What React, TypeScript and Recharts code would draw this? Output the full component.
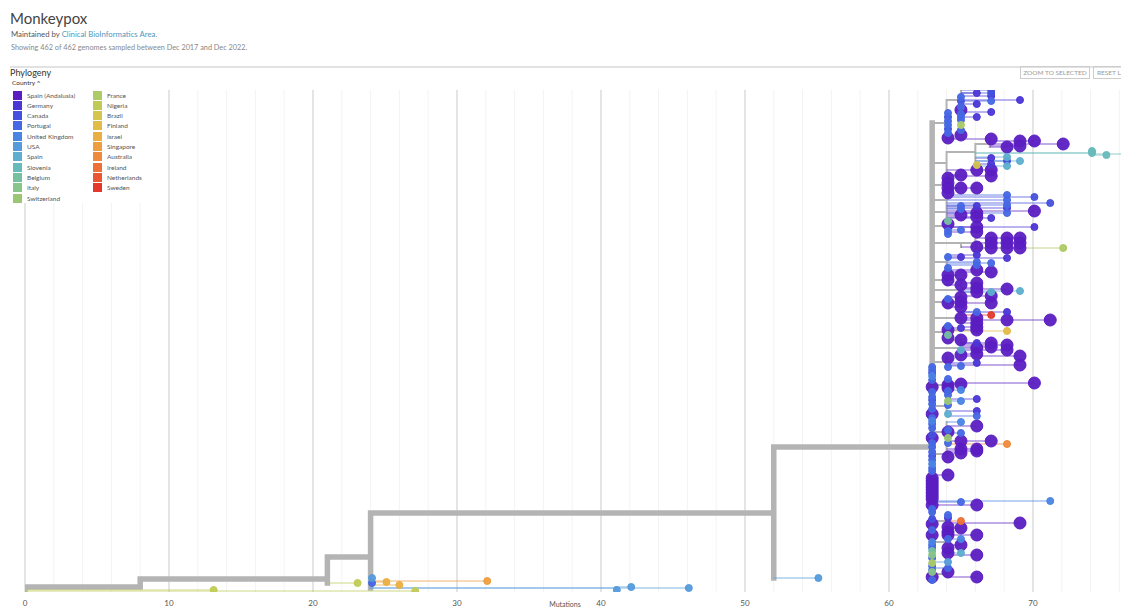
import React from 'react';
import { ComposedChart, Line, Scatter, XAxis, YAxis, ReferenceLine, Label } from 'recharts';

const countries = [
  'Spain (Andalusia)', 'Germany', 'Canada', 'Portugal', 'United Kingdom', 'USA', 'Spain',
  'Slovenia', 'Belgium', 'Italy', 'Switzerland', 'France', 'Nigeria', 'Brazil', 'Finland',
  'Israel', 'Singapore', 'Australia', 'Ireland', 'Netherlands', 'Sweden',
];
const countryColors = [
  '#5B1DC2', '#4B36D6', '#4551DE', '#4668E4', '#4A84E4', '#559BDC', '#5EAECF',
  '#67BABA', '#76C0A2', '#88C58A', '#9BC775', '#ADCB67', '#C0CB57', '#D3C54E', '#E2BC48',
  '#EAAE43', '#EF9E3F', '#EF893B', '#ED7136', '#EA5632', '#E4382D',
];

const xTicks = [0, 10, 20, 30, 40, 50, 60, 70];
const gridSteps = [0, 2, 4, 6, 8, 10, 12, 14, 16, 18, 20, 22, 24, 26, 28, 30, 32, 34, 36, 38,
  40, 42, 44, 46, 48, 50, 52, 54, 56, 58, 60, 62, 64, 66, 68, 70, 72, 74, 76];

// [id, parent, mutations, row]
type TreeNode = [string, string | null, number, number];
const nodes: TreeNode[] = [
  ['root', null, 0, 589], ['a', 'root', 8, 587], ['b', 'a', 21, 579], ['c', 'b', 24, 557],
  ['d', 'c', 52, 513], ['e', 'd', 63, 447], ['u', 'c', 41, 588],
  ['g1', 'e', 64, 123], ['g1a', 'g1', 65, 100],
  ['g2', 'e', 64, 163], ['g2a', 'g2', 66, 152], ['g2b', 'g2a', 67, 144], ['g2c', 'g2a', 74, 153],
  ['g3', 'e', 64, 185], ['g4', 'e', 64, 200], ['g5', 'e', 64, 212], ['g6', 'e', 64, 226],
  ['g7', 'e', 65, 243], ['g7a', 'g7', 66, 243], ['g8', 'e', 64, 262], ['g9', 'e', 64, 280],
  ['g10', 'e', 65, 290], ['g11', 'e', 64, 302], ['g12', 'e', 65, 318], ['g13', 'e', 64, 332],
  ['g14', 'e', 65, 348], ['g15', 'e', 64, 362], ['g16', 'e', 64, 385], ['g17', 'e', 64, 406],
  ['g18', 'e', 64, 432], ['g19', 'e', 64, 454], ['g20', 'e', 64, 521], ['g21', 'e', 64, 542],
  ['g22', 'e', 64, 574],
];

// [parent, mutations, row, country]
type Tip = [string, number, number, number];
const tips: Tip[] = [
  ['root', 13.1, 590, 12], ['root', 27.1, 591, 12], ['b', 23.1, 583, 12],
  ['c', 24.1, 578, 5], ['c', 24.1, 583, 3], ['c', 25.1, 582, 15], ['c', 32.1, 581, 16], ['c', 26, 585, 15],
  ['u', 41.1, 590, 5], ['u', 42.1, 587, 5], ['u', 46.1, 588, 5], ['d', 55.1, 578, 5],

  ['g1a', 67.1, 90, 2], ['g1a', 67.1, 93, 2], ['g1a', 66.1, 93, 1], ['g1a', 67.1, 96, 1], ['g1a', 65, 97, 3],
  ['g1a', 69.1, 100, 1], ['g1a', 67.1, 101, 3], ['g1a', 65, 101, 2], ['g1a', 66.1, 104, 1], ['g1a', 65, 107, 3],
  ['g1a', 65, 110, 0], ['g1a', 67.1, 112, 1], ['g1a', 65, 114, 3], ['g1a', 66.1, 117, 1], ['g1a', 65, 117, 3],
  ['g1a', 65, 120, 3], ['g1a', 65, 125, 11], ['g1a', 65, 130, 3], ['g1a', 65, 135, 0],
  ['g1', 64.1, 113, 3], ['g1', 64.1, 117, 2], ['g1', 64.1, 121, 3], ['g1', 64.1, 125, 3], ['g1', 64.1, 129, 2],
  ['g1', 64.1, 133, 3], ['g1', 64.1, 138, 0], ['g1', 67.1, 139, 0],

  ['g2b', 69.1, 141, 0], ['g2b', 70.1, 141, 0], ['g2b', 72.1, 144, 0], ['g2b', 69.1, 146, 0], ['g2b', 68.2, 147, 0],
  ['g2c', 74.1, 151, 7], ['g2c', 74.1, 153, 7], ['g2c', 79, 154, 7], ['g2c', 75.1, 155, 7],
  ['g2a', 68.2, 157, 6], ['g2a', 67.1, 158, 1], ['g2a', 68.2, 161, 2], ['g2a', 69.1, 161, 6],
  ['g2a', 67.1, 164, 1], ['g2a', 66.1, 165, 13], ['g2a', 68.2, 166, 6],
  ['g2', 66.1, 170, 0], ['g2', 67.1, 170, 0], ['g2', 65, 175, 0], ['g2', 67.1, 176, 0],

  ['g3', 64.1, 178, 0], ['g3', 64.1, 183, 0], ['g3', 64.1, 188, 0], ['g3', 65, 188, 0], ['g3', 66.1, 188, 0], ['g3', 64.1, 193, 0],
  ['g4', 68.2, 195, 3], ['g4', 70.1, 197, 2], ['g4', 68.2, 200, 3], ['g4', 71.2, 203, 2], ['g4', 68.2, 205, 3],
  ['g4', 66.1, 206, 1], ['g4', 65, 206, 3],
  ['g5', 65, 209, 3], ['g5', 68.2, 208, 1], ['g5', 70.1, 211, 0], ['g5', 68.2, 213, 3], ['g5', 66.1, 213, 0],
  ['g5', 65, 215, 0], ['g5', 66.1, 217, 0], ['g5', 67.1, 218, 1],
  ['g6', 64.1, 221, 8], ['g6', 64.1, 224, 0], ['g6', 70.1, 227, 1], ['g6', 66.1, 227, 0], ['g6', 65, 230, 3],
  ['g6', 64.1, 231, 3], ['g6', 66.1, 232, 0], ['g6', 64.1, 234, 3],
  ['g7a', 67.1, 238, 0], ['g7a', 68.2, 238, 0], ['g7a', 69.1, 238, 0], ['g7a', 67.1, 243, 0], ['g7a', 68.2, 243, 0],
  ['g7a', 69.1, 243, 0], ['g7a', 67.1, 248, 0], ['g7a', 68.2, 248, 0], ['g7a', 69.1, 248, 0], ['g7a', 72.1, 248, 11],
  ['g7', 66.1, 247, 0],
  ['g8', 66.1, 255, 1], ['g8', 64.1, 257, 3], ['g8', 65, 257, 1], ['g8', 68.2, 258, 1], ['g8', 66.1, 262, 3],
  ['g8', 67.1, 263, 3], ['g8', 66.1, 265, 3], ['g8', 64.1, 268, 3], ['g8', 66.1, 270, 0], ['g8', 67.1, 272, 0],
  ['g9', 64.1, 275, 0], ['g9', 65, 275, 0], ['g9', 64.1, 280, 0], ['g9', 65, 285, 0],
  ['g10', 66.1, 283, 0], ['g10', 66.1, 288, 0], ['g10', 68.2, 289, 0], ['g10', 69.1, 291, 6], ['g10', 66.1, 292, 0],
  ['g10', 67.1, 292, 6], ['g10', 67.1, 296, 0],
  ['g11', 65, 297, 0], ['g11', 64.1, 299, 3], ['g11', 65, 302, 0], ['g11', 64.1, 303, 0], ['g11', 67.1, 303, 0], ['g11', 65, 307, 0],
  ['g12', 66.1, 312, 3], ['g12', 68.2, 312, 1], ['g12', 67.1, 315, 20], ['g12', 65, 318, 0], ['g12', 66.1, 318, 0],
  ['g12', 68.2, 320, 0], ['g12', 71.2, 320, 0], ['g12', 66.1, 323, 0], ['g12', 66.1, 327, 0],
  ['g13', 64.1, 326, 3], ['g13', 65, 328, 1], ['g13', 64.1, 330, 0], ['g13', 66.1, 330, 0], ['g13', 68.2, 331, 14],
  ['g13', 64.1, 335, 8], ['g13', 64.1, 338, 0],
  ['g14', 65, 340, 0], ['g14', 66.1, 343, 1], ['g14', 67.1, 343, 0], ['g14', 68.2, 345, 0], ['g14', 67.1, 347, 0],
  ['g14', 66.1, 348, 0], ['g14', 68.2, 350, 0], ['g14', 65, 350, 6], ['g14', 66.1, 354, 0], ['g14', 65, 355, 0], ['g14', 69.1, 356, 0],
  ['g15', 64.1, 358, 0], ['g15', 66.1, 363, 1], ['g15', 69.1, 365, 0], ['g15', 65, 366, 3], ['g15', 64.1, 367, 3],
  ['g16', 64.1, 379, 3], ['g16', 70.1, 383, 0], ['g16', 65, 384, 0], ['g16', 64.1, 385, 0], ['g16', 64.1, 388, 0],
  ['g16', 65, 390, 4], ['g16', 64.1, 391, 3], ['g16', 64.1, 395, 3],
  ['g17', 66.1, 399, 1], ['g17', 65, 401, 4], ['g17', 64.1, 401, 10], ['g17', 64.1, 405, 3], ['g17', 66.1, 411, 1],
  ['g17', 64.1, 414, 6], ['g17', 66.1, 416, 3],
  ['g18', 65, 422, 4], ['g18', 66.1, 426, 0], ['g18', 64.1, 430, 3], ['g18', 64.1, 432, 0], ['g18', 65, 433, 3],
  ['g18', 64.1, 438, 10], ['g18', 67.1, 441, 0], ['g18', 65, 441, 0], ['g18', 64.1, 443, 3], ['g18', 68.2, 444, 17],
  ['g18', 65, 449, 0], ['g18', 66.1, 449, 0],
  ['g19', 66.1, 451, 0], ['g19', 65, 453, 0], ['g19', 64.1, 457, 0],
  ['g20', 64.1, 515, 3], ['g20', 64.1, 518, 1], ['g20', 65, 521, 18], ['g20', 69.1, 523, 0], ['g20', 64.1, 527, 0], ['g20', 65, 528, 0],
  ['g21', 64.1, 532, 0], ['g21', 64.1, 535, 0], ['g21', 66.1, 535, 0], ['g21', 65, 539, 4], ['g21', 64.1, 539, 3],
  ['g21', 65, 545, 0], ['g21', 64.1, 548, 0], ['g21', 64.1, 553, 0], ['g21', 65, 553, 6], ['g21', 66.1, 555, 0],
  ['g22', 64.1, 572, 0], ['g22', 66.1, 577, 0],

  ['e', 63, 367, 3], ['e', 63, 370, 3], ['e', 63, 373, 2], ['e', 63, 376, 4], ['e', 63, 380, 3], ['e', 63, 387, 0],
  ['e', 63, 392, 3], ['e', 63, 397, 3], ['e', 63, 400, 2], ['e', 63, 404, 3], ['e', 63, 409, 3], ['e', 63, 414, 0],
  ['e', 63, 418, 3], ['e', 63, 421, 4], ['e', 63, 424, 3], ['e', 63, 428, 3], ['e', 63, 435, 2], ['e', 63, 438, 0],
  ['e', 63, 443, 3], ['e', 63, 447, 3], ['e', 63, 452, 3], ['e', 63, 456, 2], ['e', 63, 460, 3], ['e', 63, 464, 4],
  ['e', 63, 468, 3], ['e', 63, 471, 3], ['e', 64.1, 475, 0],
  ['e', 63, 478, 0], ['e', 63, 481, 0], ['e', 63, 484, 0], ['e', 63, 487, 0], ['e', 63, 490, 0], ['e', 63, 493, 0],
  ['e', 63, 496, 0], ['e', 63, 499, 0], ['e', 71.2, 501, 4], ['e', 65, 502, 3], ['e', 66.1, 505, 0], ['e', 63, 505, 0],
  ['e', 63, 509, 3], ['e', 63, 512, 3], ['e', 63, 519, 2], ['e', 63, 524, 0], ['e', 63, 530, 3], ['e', 63, 535, 0],
  ['e', 63, 542, 4], ['e', 63, 545, 3], ['e', 63, 548, 3], ['e', 63, 551, 8], ['e', 63, 555, 9], ['e', 63, 558, 3],
  ['e', 64.1, 562, 5], ['e', 63, 563, 11], ['e', 64.1, 568, 3], ['e', 63, 566, 3], ['e', 63, 570, 3],
  ['e', 63, 572, 9], ['e', 63, 577, 0], ['e', 63, 580, 3],
];

// ---- tree layout helpers ----
const nodeMap = new Map(nodes.map((n) => [n[0], n]));
const childRows = new Map<string, number[]>();
const addRow = (id: string, r: number) => {
  if (!childRows.has(id)) childRows.set(id, []);
  childRows.get(id)!.push(r);
};
nodes.forEach(([, p, , row]) => p && addRow(p, row));
tips.forEach(([p, , row]) => addRow(p, row));

const descCountries = (id: string): number[] => {
  const own = tips.filter((t) => t[0] === id).map((t) => t[3]);
  const sub = nodes.filter((n) => n[1] === id).flatMap((n) => descCountries(n[0]));
  return [...own, ...sub];
};

type Pt = { x: number; y: number | null };
type Seg = { stroke: string; width: number; opacity: number; data: Pt[] };
const branchGroups = new Map<string, Seg>();
const addSeg = (stroke: string, width: number, opacity: number, x1: number, y1: number, x2: number, y2: number) => {
  const key = `${stroke}-${width}-${opacity}`;
  if (!branchGroups.has(key)) branchGroups.set(key, { stroke, width, opacity, data: [] });
  branchGroups.get(key)!.data.push({ x: x1, y: y1 }, { x: x2, y: y2 }, { x: x2, y: null });
};

nodes.forEach(([id, p, m, row]) => {
  const desc = descCountries(id);
  const uniq = Array.from(new Set(desc));
  const width = desc.length >= 50 ? 5.5 : 2;
  // single-country subtrees other than the big purple ones take their country colour
  const tinted = uniq.length === 1 && uniq[0] !== 0;
  const stroke = tinted ? countryColors[uniq[0]] : '#b4b4b4';
  const opacity = tinted ? 0.55 : 1;
  if (p) addSeg(stroke, width, opacity, nodeMap.get(p)![2], row, m, row);
  const rows = [row, ...(childRows.get(id) || [])];
  addSeg(stroke, width, opacity, m, Math.min(...rows), m, Math.max(...rows));
});
const nodeLines = Array.from(branchGroups.values()).sort((a, b) => b.width - a.width);

const tipLines = countries.map((_, ci) => {
  const data: Pt[] = [];
  tips.filter((t) => t[3] === ci).forEach(([p, m, row]) => {
    const pm = nodeMap.get(p)![2];
    if (m > pm) data.push({ x: pm, y: row }, { x: m, y: row }, { x: m, y: null });
  });
  return data;
});

const tipDots = countries.map((_, ci) => tips.filter((t) => t[3] === ci).map(([, m, row]) => ({ x: m, y: row })));

const W = 1121;
const H = 600;
const font = 'Lato, "Open Sans", sans-serif';

export default function App() {
  return (
    <div style={{ position: 'relative', width: W, height: H, overflow: 'hidden', fontFamily: font }}>
      <div style={{ position: 'absolute', left: 0, top: 0 }}>
        <ComposedChart width={W} height={H} margin={{ top: 82, right: 0, bottom: 0, left: 17 }}>
          {gridSteps.map((v) => (
            <ReferenceLine key={`g${v}`} x={v} stroke={v % 10 === 0 ? '#dcdcdc' : '#f3f3f3'} strokeWidth={v % 10 === 0 ? 1.5 : 1} />
          ))}
          <XAxis type="number" dataKey="x" domain={[0, 76.67]} ticks={xTicks} allowDataOverflow
            axisLine={false} tickLine={false} height={16} interval={0}
            tick={{ fontSize: 8, fill: '#555', fontFamily: font }}>
            <Label value="Mutations" position="insideBottom" offset={1} dx={-12} style={{ fontSize: 7, fill: '#555', fontFamily: font }} />
          </XAxis>
          <YAxis type="number" dataKey="y" domain={[90, 592]} reversed hide allowDataOverflow />
          {nodeLines.map((g, i) => (
            <Line key={`n${i}`} data={g.data} dataKey="y" stroke={g.stroke} strokeWidth={g.width}
              strokeOpacity={g.opacity} strokeLinecap="square" dot={false} activeDot={false}
              isAnimationActive={false} connectNulls={false} type="linear" />
          ))}
          {tipLines.map((data, ci) => data.length ? (
            <Line key={`t${ci}`} data={data} dataKey="y" stroke={countryColors[ci]} strokeWidth={1.5}
              strokeOpacity={0.5} dot={false} activeDot={false} isAnimationActive={false}
              connectNulls={false} type="linear" />
          ) : null)}
          {tipDots.map((data, ci) => data.length ? (
            <Scatter key={`d${ci}`} data={data} dataKey="y" fill={countryColors[ci]} isAnimationActive={false}
              shape={(p: any) => (
                <circle cx={p.cx} cy={p.cy} r={ci === 0 ? 6 : 3.5} fill={countryColors[ci]}
                  fillOpacity={0.95} stroke={countryColors[ci]} strokeWidth={1} />
              )} />
          ) : null)}
        </ComposedChart>
      </div>

      <div style={{ position: 'absolute', left: 2, top: 0, fontSize: 15, lineHeight: '20px', color: '#444' }}>Monkeypox</div>
      <div style={{ position: 'absolute', left: 3, top: 21, fontSize: 7.8, lineHeight: '10px', color: '#555' }}>
        Maintained by <span style={{ color: '#5097BA' }}>Clinical BioInformatics Area.</span>
      </div>
      <div style={{ position: 'absolute', left: 3, top: 35, fontSize: 7.3, lineHeight: '10px', color: '#888' }}>
        Showing 462 of 462 genomes sampled between Dec 2017 and Dec 2022.
      </div>
      <div style={{ position: 'absolute', left: 2, right: 0, top: 58, height: 2, background: '#e2e2e2' }} />
      <div style={{ position: 'absolute', left: 2, top: 59, fontSize: 9, lineHeight: '12px', color: '#333' }}>Phylogeny</div>
      <div style={{ position: 'absolute', left: 4, top: 71, fontSize: 6.5, lineHeight: '8px', color: '#333' }}>Country ^</div>
      <div style={{ position: 'absolute', left: 1012, top: 58, width: 68, height: 11, border: '1px solid #ccc', fontSize: 6.5, lineHeight: '11px', color: '#999', textAlign: 'center' }}>ZOOM TO SELECTED</div>
      <div style={{ position: 'absolute', left: 1085, top: 58, width: 60, height: 11, border: '1px solid #ccc', fontSize: 6.5, lineHeight: '11px', color: '#999', paddingLeft: 3, whiteSpace: 'nowrap' }}>RESET LAYOUT</div>

      <div style={{ position: 'absolute', left: 0, top: 80, width: 152, height: 115, background: '#fff' }}>
        {countries.map((c, i) => {
          const col = i < 11 ? 0 : 1;
          const row = i < 11 ? i : i - 11;
          return (
            <div key={c} style={{ position: 'absolute', left: col ? 85 : 5, top: 2 + row * 10.3, height: 10, display: 'flex', alignItems: 'center' }}>
              <div style={{ width: 9, height: 9, background: countryColors[i] }} />
              <span style={{ marginLeft: 5, fontSize: 6.5, color: '#555', whiteSpace: 'nowrap' }}>{c}</span>
            </div>
          );
        })}
      </div>
    </div>
  );
}
